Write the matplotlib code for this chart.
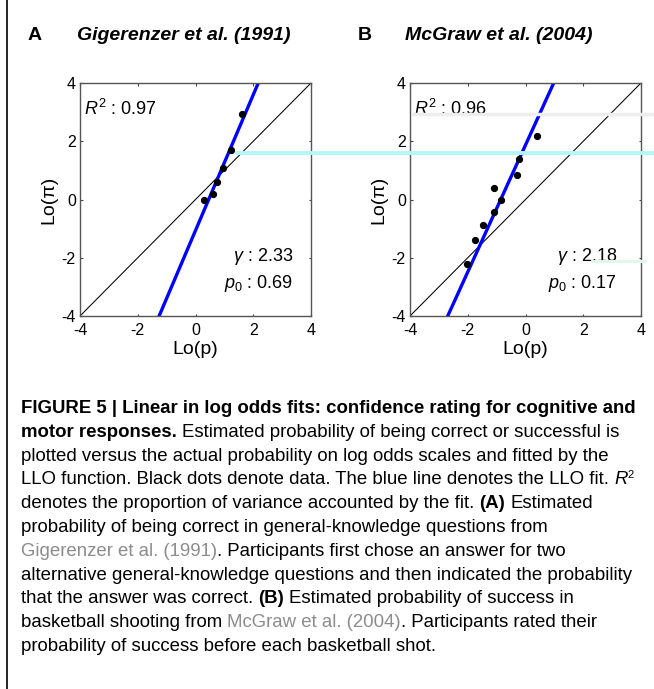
import numpy as np
import matplotlib
matplotlib.use("Agg")
import matplotlib.pyplot as plt
from matplotlib.lines import Line2D

W, H = 654, 689

# log odds of actual probability (x) and estimated probability (y)
lo_p_a = [0.31, 0.62, 0.76, 0.94, 1.23, 1.62]
lo_pi_a = [0.00, 0.19, 0.59, 1.07, 1.70, 2.93]
gamma_a, p0_a, r2_a = 2.33, 0.69, 0.97

lo_p_b = [-2.04, -1.75, -1.48, -1.09, -1.08, -0.84, -0.28, -0.21, 0.41]
lo_pi_b = [-2.20, -1.39, -0.86, 0.41, -0.42, -0.02, 0.84, 1.38, 2.19]
gamma_b, p0_b, r2_b = 2.18, 0.17, 0.96

ticks = [-4, -2, 0, 2, 4]
titles = ["Gigerenzer et al. (1991)", "McGraw et al. (2004)"]
letters = ["A", "B"]

cap_font = "Liberation Sans"
plt.rcParams["font.family"] = "Liberation Sans"
plt.rcParams["axes.unicode_minus"] = False
plt.rcParams["mathtext.fontset"] = "custom"
plt.rcParams["mathtext.rm"] = "Liberation Sans"
plt.rcParams["mathtext.it"] = "Liberation Sans:italic"

fig = plt.figure(figsize=(W / 100, H / 100), dpi=100)


def px_axes(l, t, r, b):
    return fig.add_axes([l / W, 1 - b / H, (r - l) / W, (b - t) / H])


def panel(ax, x, y, g, p0, r2, gx):
    ax.plot([-4, 4], [-4, 4], color="k", lw=0.75)
    lp0 = np.log(p0 / (1 - p0))
    xs = np.linspace(-4, 4, 400)
    ax.plot(xs, g * xs + (1 - g) * lp0, color="#0000ff", lw=2.4)
    ax.plot(x, y, "o", color="k", ms=4.2)
    ax.set_xlim(-4, 4)
    ax.set_ylim(-4, 4)
    ax.set_xticks(ticks)
    ax.set_yticks(ticks)
    ax.tick_params(direction="in", length=1.8, width=0.8, top=True, right=True,
                   labelsize=11.5, color="#444444")
    ax.tick_params(axis="x", pad=5)
    ax.tick_params(axis="y", pad=3)
    for s in ax.spines.values():
        s.set_linewidth(1.0)
        s.set_color("#555555")
    ax.set_xlabel("Lo(p)", fontsize=14, labelpad=2)
    ax.set_ylabel("Lo(\u03c0)", fontsize=14, labelpad=3)
    ax.text(-3.85, 3.1, r"$R^2$ : %.2f" % r2, fontsize=13, va="center")
    ax.text(gx, -1.97, r"$\gamma$ : %.2f" % g, fontsize=13, va="center", ha="right")
    ax.text(gx, -2.89, r"$p_0$ : %.2f" % p0, fontsize=13, va="center", ha="right")


ax_a = px_axes(80, 83, 311, 316)
panel(ax_a, lo_p_a, lo_pi_a, gamma_a, p0_a, r2_a, 3.39)
ax_b = px_axes(410, 83, 641, 316)
panel(ax_b, lo_p_b, lo_pi_b, gamma_b, p0_b, r2_b, 3.16)

for lx, tx, letter, title in [(28, 77, letters[0], titles[0]), (358, 405, letters[1], titles[1])]:
    fig.text(lx / W, 1 - 36 / H, letter, fontsize=14, weight="bold", va="center")
    fig.text(tx / W, 1 - 36 / H, title, fontsize=14, weight="bold", style="italic", va="center")

# left rule of the page
fig.add_artist(Line2D([7 / W, 7 / W], [0, 1], color="k", lw=1.2))

# scan streaks across the panels
fig.add_artist(Line2D([237 / W, 1], [1 - 153 / H] * 2, color="#b4f7f7", lw=2.8, zorder=10))
fig.add_artist(Line2D([413 / W, 1], [1 - 114 / H] * 2, color="#ededed", lw=2.5, zorder=10))
fig.add_artist(Line2D([593 / W, 645 / W], [1 - 261 / H] * 2, color="#e2f6ee", lw=2.2, zorder=10))

# caption
cap_size = 13.4
grey = "#8c8c8c"
lines = [
    [("FIGURE 5 | Linear in log odds fits: confidence rating for cognitive and", "bold", "k")],
    [("motor responses.", "bold", "k"), (" Estimated probability of being correct or successful is", "normal", "k")],
    [("plotted versus the actual probability on log odds scales and fitted by the", "normal", "k")],
    [("LLO function. Black dots denote data. The blue line denotes the LLO fit.", "normal", "k"),
     (" R", "italic", "k"), ("2", "sup", "k")],
    [("denotes the proportion of variance accounted by the fit.", "normal", "k"), (" (A)", "bold", "k"),
     (" Estimated", "normal", "k")],
    [("probability of being correct in general-knowledge questions from", "normal", "k")],
    [("Gigerenzer et al. (1991)", "normal", grey), (". Participants first chose an answer for two", "normal", "k")],
    [("alternative general-knowledge questions and then indicated the probability", "normal", "k")],
    [("that the answer was correct.", "normal", "k"), (" (B)", "bold", "k"),
     (" Estimated probability of success in", "normal", "k")],
    [("basketball shooting from", "normal", "k"), (" McGraw et al. (2004)", "normal", grey),
     (". Participants rated their", "normal", "k")],
    [("probability of success before each basketball shot.", "normal", "k")],
]

renderer = fig.canvas.get_renderer()


def width_of(s, **kw):
    t = fig.text(0, 0, s, fontsize=cap_size, family=cap_font, **kw)
    w = t.get_window_extent(renderer=renderer).width
    t.remove()
    return w


space_w = {}
for wt in ["normal", "bold"]:
    space_w[wt] = width_of("x x", weight=wt) - width_of("xx", weight=wt)

y0, dy = 413, 23.8
for i, runs in enumerate(lines):
    x = 21
    yb = y0 + i * dy
    for s, kind, col in runs:
        if s.startswith(" "):
            x += space_w["bold" if kind == "bold" else "normal"]
            s = s[1:]
        kw = {}
        size = cap_size
        yy = yb
        if kind == "bold":
            kw["weight"] = "bold"
        elif kind == "italic":
            kw["style"] = "italic"
        elif kind == "sup":
            size = 8
            yy = yb - 6
        t = fig.text(x / W, 1 - yy / H, s, fontsize=size, family=cap_font, color=col,
                     va="baseline", **kw)
        x += t.get_window_extent(renderer=renderer).width

fig.savefig("out.png", dpi=100)
